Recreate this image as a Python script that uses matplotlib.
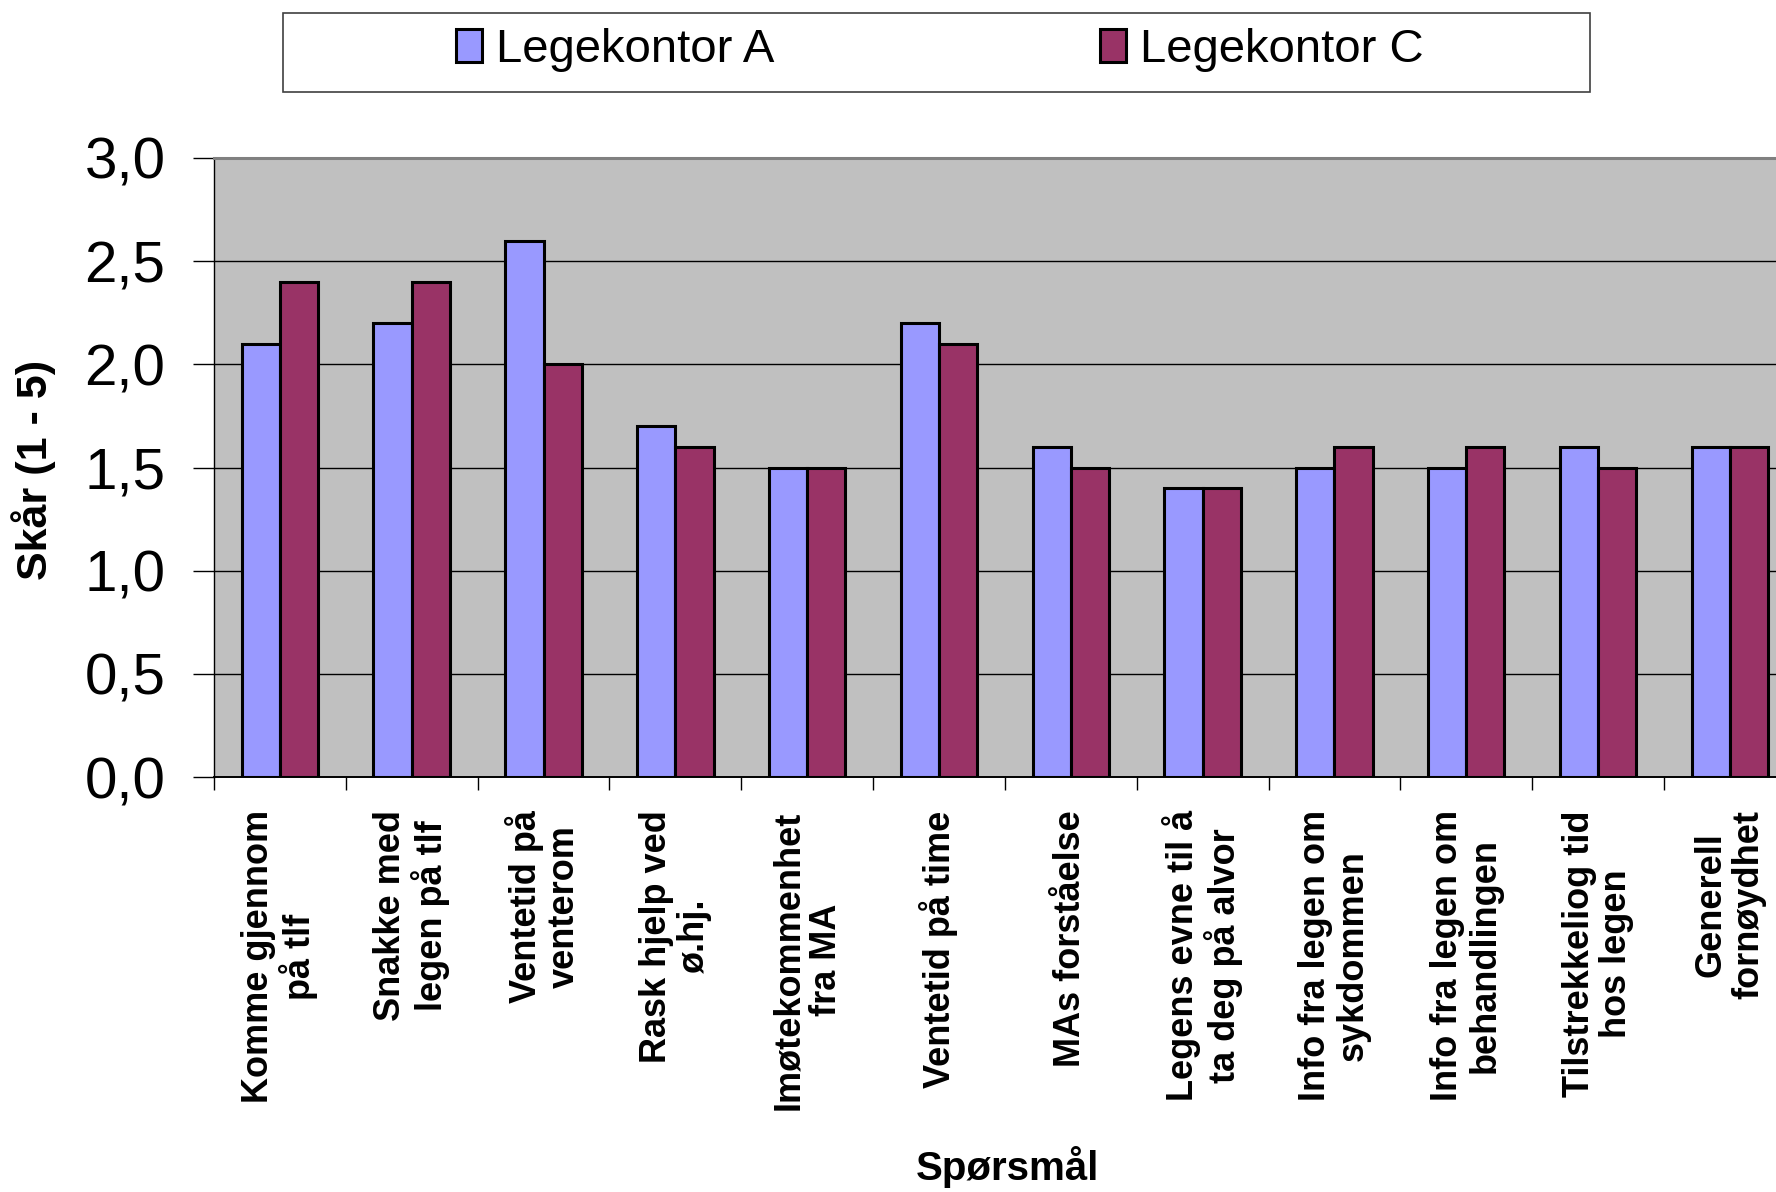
import numpy as np
import matplotlib
matplotlib.use("Agg")
import matplotlib.pyplot as plt
from matplotlib.patches import Rectangle

plt.rcParams['font.family'] = ['Liberation Sans', 'DejaVu Sans']

# data
questions = [
    "Komme gjennom\npå tlf",
    "Snakke med\nlegen på tlf",
    "Ventetid på\nventerom",
    "Rask hjelp ved\nø.hj.",
    "Imøtekommenhet\nfra MA",
    "Ventetid på time",
    "MAs forståelse",
    "Legens evne til å\nta deg på alvor",
    "Info fra legen om\nsykdommen",
    "Info fra legen om\nbehandlingen",
    "Tilstrekkeliog tid\nhos legen",
    "Generell\nfornøydhet",
]
kontor_a = [2.1, 2.2, 2.6, 1.7, 1.5, 2.2, 1.6, 1.4, 1.5, 1.5, 1.6, 1.6]
kontor_c = [2.4, 2.4, 2.0, 1.6, 1.5, 2.1, 1.5, 1.4, 1.6, 1.6, 1.5, 1.6]
series_names = ["Legekontor A", "Legekontor C"]
yticks = [0.0, 0.5, 1.0, 1.5, 2.0, 2.5, 3.0]

col_a = "#9999FF"
col_c = "#993366"

W, H = 1776, 1192
fig = plt.figure(figsize=(W / 100, H / 100), dpi=100)
ax = fig.add_axes([214 / W, 1 - 777 / H, (W - 214) / W, (777 - 158) / H])
ax.set_facecolor("#C0C0C0")

x = np.arange(len(questions))
bw = 0.29
ax.bar(x - bw / 2, kontor_a, bw, color=col_a, edgecolor="black", linewidth=2.2, zorder=3)
ax.bar(x + bw / 2, kontor_c, bw, color=col_c, edgecolor="black", linewidth=2.2, zorder=3)

ax.set_xlim(-0.5, 11.35)
ax.set_ylim(0, 3.0)

# horizontal gridlines
for v in yticks[1:-1]:
    ax.axhline(v, color="black", linewidth=1.0, zorder=1)

ax.set_yticks(yticks)
ax.set_yticklabels([f"{v:.1f}".replace(".", ",") for v in yticks], fontsize=42)
ax.tick_params(axis="y", length=15, width=1, pad=20, direction="out")

# group boundaries as major ticks, labels on minor ticks at centers
ax.set_xticks(np.arange(-0.5, 11.5, 1.0))
ax.set_xticklabels([])
ax.tick_params(axis="x", which="major", length=9.5, width=1, direction="out")
ax.set_xticks(x, minor=True)
ax.set_xticklabels(questions, minor=True, rotation=90, fontsize=26, fontweight="bold",
                   ha="center", va="top", multialignment="center", linespacing=1.1)
ax.tick_params(axis="x", which="minor", length=0, pad=24)

ax.spines["right"].set_visible(False)
ax.spines["top"].set_color("#808080")
ax.spines["top"].set_linewidth(2.2)
ax.spines["left"].set_color("black")
ax.spines["left"].set_linewidth(1.0)
ax.spines["bottom"].set_color("black")
ax.spines["bottom"].set_linewidth(1.4)

fig.text(34 / W, 1 - 470 / H, "Skår (1 - 5)", rotation=90, fontsize=31, fontweight="bold",
         ha="center", va="center")
fig.text(1007 / W, 1 - 1167 / H, "Spørsmål", fontsize=29, fontweight="bold",
         ha="center", va="center")

# legend box
frame = Rectangle((283 / W, 1 - 92 / H), (1590 - 283) / W, (92 - 13) / H,
                  transform=fig.transFigure, facecolor="white", edgecolor="#404040",
                  linewidth=1.2, zorder=0)
fig.patches.append(frame)
handles = [Rectangle((0, 0), 1, 1, facecolor=col_a, edgecolor="black", linewidth=2.2),
           Rectangle((0, 0), 1, 1, facecolor=col_c, edgecolor="black", linewidth=2.2)]
fig.legend(handles, series_names, loc="center", ncol=2,
           bbox_to_anchor=((283 + 1590) / 2 / W + 0.002, 1 - 50 / H),
           frameon=False, fontsize=34, handlelength=0.55, handleheight=0.7,
           handletextpad=0.3, columnspacing=6.9)

fig.savefig("out.png", dpi=100)
